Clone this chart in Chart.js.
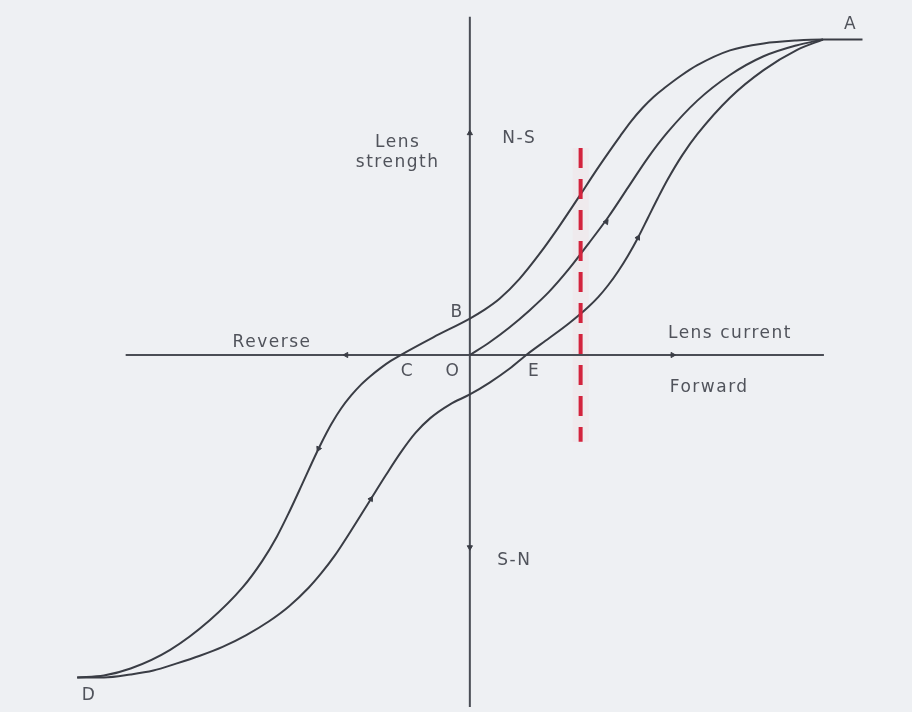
<!DOCTYPE html>
<html>
<head>
<meta charset="utf-8">
<script src="https://cdn.jsdelivr.net/npm/chart.js@4/dist/chart.umd.min.js"></script>
<style>
  html, body { margin: 0; padding: 0; background: #eef0f3; }
  #wrap { width: 912px; height: 712px; position: relative; }
</style>
</head>
<body>
<div id="wrap"><canvas id="c"></canvas></div>
<script>
// Hysteresis of an electromagnetic lens: lens strength against lens current.
// Units are arbitrary (current to the right, strength upward).

// Descending branch: from saturation A, through B (remanence) and C (coercive point), to D
const upperCurrent  = [39.7, 35.7, 33.0, 29.7, 26.3, 23.0, 21.3, 19.7, 18.6, 17.5, 16.3, 15.2, 14.0, 12.5, 11.2, 9.0, 7.0, 5.0, 3.0, 1.5, 0.0, -3.7, -7.0, -8.0, -9.0, -10.0, -11.0, -12.0, -13.0, -14.0, -15.0, -16.0, -17.0, -18.3, -19.5, -21.0, -23.0, -26.3, -30.3, -34.3, -37.0, -39.7];
const upperStrength = [32.0, 32.0, 31.9, 31.6, 30.9, 29.4, 28.3, 27.1, 26.2, 25.1, 23.7, 22.2, 20.5, 18.3, 16.3, 13.0, 10.2, 7.7, 5.7, 4.6, 3.7, 1.8, 0.0, -0.6, -1.3, -2.1, -3.0, -4.1, -5.4, -7.0, -8.9, -11.0, -13.2, -16.0, -18.4, -20.9, -23.6, -26.9, -29.9, -31.8, -32.5, -32.7];

// Initial magnetisation curve: from O up to A
const initialCurrent  = [0.0, 2.0, 4.0, 6.0, 8.0, 10.0, 12.0, 14.0, 16.0, 18.0, 20.0, 23.0, 26.3, 29.7, 33.0, 35.7];
const initialStrength = [0.0, 1.3, 2.8, 4.5, 6.4, 8.7, 11.3, 14.0, 17.0, 20.0, 22.6, 25.8, 28.4, 30.3, 31.4, 32.0];

// Ascending branch: from D, through E, back to A
const lowerCurrent  = [-39.7, -37.0, -34.3, -32.0, -29.7, -27.3, -25.0, -22.6, -20.3, -18.3, -16.3, -15.0, -13.7, -12.0, -10.0, -8.5, -7.0, -5.5, -4.0, -2.0, 0.0, 2.0, 4.0, 5.7, 8.0, 10.0, 12.0, 13.0, 14.0, 15.0, 16.0, 17.0, 18.0, 19.0, 20.0, 21.5, 23.0, 26.3, 29.7, 33.0, 35.7];
const lowerStrength = [-32.7, -32.7, -32.4, -32.0, -31.3, -30.5, -29.6, -28.4, -27.0, -25.5, -23.6, -22.1, -20.4, -17.8, -14.6, -12.2, -9.9, -7.9, -6.4, -5.0, -4.0, -2.8, -1.4, 0.0, 1.7, 3.2, 4.9, 5.9, 7.1, 8.5, 10.1, 11.9, 13.9, 15.9, 17.8, 20.3, 22.4, 26.1, 28.9, 30.9, 32.0];

// Axis extents
const axisCurrent  = [-34.8, 35.8];
const axisStrength = [34.3, -35.7];

// Operating current marked by the red dashed line, and its strength span
const markCurrent  = 11.2;
const markStrength = [21.0, -8.8];

// Direction marks on the branches and the axes
const arrowCurrent  = [-15.3, -10.0, 13.8, 17.0, -12.5, 20.5, 0.0, 0.0];
const arrowStrength = [-9.5, -14.6, 13.5, 11.9, 0.0, 0.0, 22.5, -19.5];
const arrowAngle    = [206, 32, 37, 29, 270, 90, 0, 180];

// Text annotations
const labelText     = ['Lens', 'strength', 'N-S', 'B', 'Reverse', 'C', 'O', 'E', 'Lens current', 'Forward', 'S-N', 'A', 'D'];
const labelCurrent  = [-7.3, -7.3, 5.0, -1.3, -20.0, -6.3, -1.7, 6.5, 26.3, 24.2, 4.5, 38.5, -38.5];
const labelStrength = [21.5, 19.5, 22.0, 4.3, 1.3, -1.7, -1.7, -1.7, 2.2, -3.3, -20.8, 33.5, -34.5];

const pts = (xs, ys) => xs.map((x, i) => ({ x, y: ys[i] }));
const INK = '#3a3d45';

const curveStyle = {
  borderColor: INK,
  borderWidth: 2,
  pointRadius: 0,
  fill: false,
  cubicInterpolationMode: 'monotone',
  order: 2
};

const background = {
  id: 'background',
  beforeDraw(chart) {
    const { ctx, width, height } = chart;
    ctx.save();
    ctx.fillStyle = '#eef0f3';
    ctx.fillRect(0, 0, width, height);
    ctx.restore();
  }
};

const labels = {
  id: 'labels',
  afterDatasetsDraw(chart) {
    const { ctx, scales } = chart;
    ctx.save();
    ctx.fillStyle = '#50535b';
    ctx.font = '17px "DejaVu Sans", "Liberation Sans", sans-serif';
    ctx.letterSpacing = '1.5px';
    ctx.textAlign = 'center';
    ctx.textBaseline = 'middle';
    labelText.forEach((t, i) => {
      ctx.fillText(t, scales.x.getPixelForValue(labelCurrent[i]), scales.y.getPixelForValue(labelStrength[i]));
    });
    ctx.restore();
  }
};

new Chart(document.getElementById('c'), {
  type: 'line',
  data: {
    datasets: [
      {
        label: 'operating current',
        data: pts([markCurrent, markCurrent], markStrength),
        borderColor: '#d3233d',
        borderWidth: 4,
        borderDash: [20, 11],
        pointRadius: 0,
        order: 0
      },
      {
        label: 'operating current glow',
        data: pts([markCurrent, markCurrent], markStrength),
        borderColor: 'rgba(255, 150, 175, 0.07)',
        borderWidth: 16,
        pointRadius: 0,
        order: 4
      },
      Object.assign({ label: 'descending', data: pts(upperCurrent, upperStrength) }, curveStyle),
      Object.assign({ label: 'initial', data: pts(initialCurrent, initialStrength) }, curveStyle),
      Object.assign({ label: 'ascending', data: pts(lowerCurrent, lowerStrength) }, curveStyle),
      {
        label: 'current axis',
        data: pts(axisCurrent, [0, 0]),
        borderColor: '#4a4d55',
        borderWidth: 2,
        pointRadius: 0,
        order: 3
      },
      {
        label: 'strength axis',
        data: pts([0, 0], axisStrength),
        borderColor: '#4a4d55',
        borderWidth: 2,
        pointRadius: 0,
        order: 3
      },
      {
        label: 'direction',
        data: pts(arrowCurrent, arrowStrength),
        showLine: false,
        pointStyle: 'triangle',
        pointRadius: 3,
        rotation: arrowAngle,
        backgroundColor: INK,
        borderColor: INK,
        borderWidth: 1,
        order: 1
      }
    ]
  },
  options: {
    responsive: true,
    maintainAspectRatio: false,
    animation: false,
    layout: { padding: 0 },
    plugins: { legend: { display: false }, tooltip: { enabled: false } },
    scales: {
      x: { type: 'linear', display: false, min: -47, max: 44.2 },
      y: { type: 'linear', display: false, min: -35.7, max: 35.5 }
    }
  },
  plugins: [background, labels]
});
</script>
</body>
</html>
